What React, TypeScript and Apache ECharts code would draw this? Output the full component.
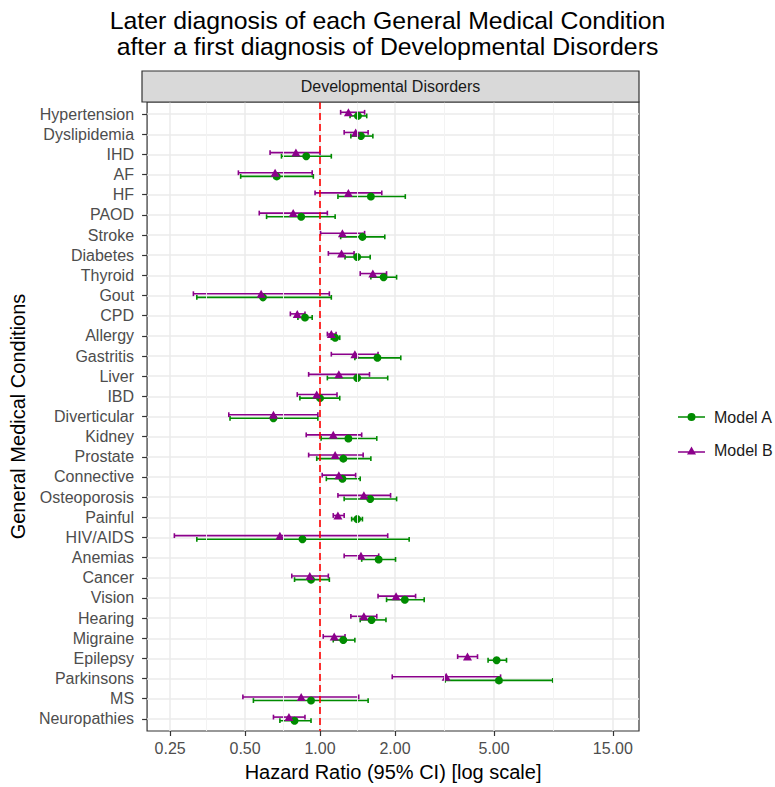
import React, { useEffect, useRef } from 'react';
import * as echarts from 'echarts';

const conditions = [
  'Hypertension', 'Dyslipidemia', 'IHD', 'AF', 'HF', 'PAOD', 'Stroke', 'Diabetes', 'Thyroid', 'Gout',
  'CPD', 'Allergy', 'Gastritis', 'Liver', 'IBD', 'Diverticular', 'Kidney', 'Prostate', 'Connective',
  'Osteoporosis', 'Painful', 'HIV/AIDS', 'Anemias', 'Cancer', 'Vision', 'Hearing', 'Migraine',
  'Epilepsy', 'Parkinsons', 'MS', 'Neuropathies',
];

// Model A (green, circle)
const hrA = [1.42, 1.46, 0.88, 0.67, 1.6, 0.84, 1.48, 1.41, 1.8, 0.59, 0.87, 1.15, 1.7, 1.41, 1.0, 0.65, 1.3, 1.24, 1.23, 1.59, 1.41, 0.85, 1.72, 0.92, 2.19, 1.61, 1.24, 5.12, 5.23, 0.92, 0.79];
const loA = [1.32, 1.33, 0.7, 0.48, 1.18, 0.61, 1.21, 1.26, 1.6, 0.32, 0.815, 1.11, 1.38, 1.07, 0.83, 0.435, 1.01, 0.97, 1.06, 1.25, 1.34, 0.32, 1.47, 0.79, 1.85, 1.45, 1.13, 4.73, 3.18, 0.54, 0.69];
const hiA = [1.54, 1.63, 1.11, 0.94, 2.2, 1.15, 1.82, 1.59, 2.03, 1.11, 0.93, 1.2, 2.11, 1.87, 1.2, 0.98, 1.69, 1.6, 1.45, 2.03, 1.48, 2.28, 2.01, 1.09, 2.62, 1.84, 1.38, 5.61, 8.6, 1.56, 0.92];

// Model B (purple, triangle)
const hrB = [1.3, 1.39, 0.8, 0.66, 1.3, 0.78, 1.23, 1.22, 1.63, 0.58, 0.81, 1.11, 1.38, 1.19, 0.97, 0.65, 1.13, 1.15, 1.19, 1.5, 1.18, 0.69, 1.46, 0.91, 2.02, 1.5, 1.14, 3.91, 3.21, 0.84, 0.75];
const loB = [1.21, 1.25, 0.63, 0.47, 0.955, 0.57, 1.005, 1.08, 1.45, 0.31, 0.76, 1.07, 1.11, 0.9, 0.81, 0.43, 0.88, 0.9, 1.02, 1.18, 1.13, 0.26, 1.25, 0.77, 1.71, 1.33, 1.03, 3.57, 1.95, 0.49, 0.65];
const hiB = [1.51, 1.56, 1.0, 0.93, 1.77, 1.07, 1.51, 1.37, 1.85, 1.09, 0.87, 1.16, 1.71, 1.58, 1.17, 0.98, 1.47, 1.49, 1.39, 1.92, 1.25, 1.87, 1.72, 1.08, 2.42, 1.69, 1.26, 4.29, 5.31, 1.43, 0.87];

const xTicks = [0.25, 0.5, 1, 2, 5, 15];
const xMinor = [0.354, 0.707, 1.414, 3.162, 8.66];
const refLine = [1];

const FONT = '"Liberation Sans", Arial, Helvetica, sans-serif';
const GREEN = '#008B00';
const PURPLE = '#8B008B';
const DODGE = 0.09;

function errorBars(name: string, lo: number[], hi: number[], off: number, color: string) {
  return {
    type: 'custom',
    name,
    z: 3,
    silent: true,
    itemStyle: { color },
    data: conditions.map((_, i) => [lo[i], i + off, hi[i]]),
    encode: { x: [0, 2], y: 1 },
    renderItem: (_params: any, api: any) => {
      const a = api.coord([api.value(0), api.value(1)]);
      const b = api.coord([api.value(2), api.value(1)]);
      const c = 2.4;
      const st = { stroke: color, lineWidth: 1.6, fill: 'none' };
      return {
        type: 'group',
        children: [
          { type: 'line', shape: { x1: a[0], y1: a[1], x2: b[0], y2: b[1] }, style: st },
          { type: 'line', shape: { x1: a[0], y1: a[1] - c, x2: a[0], y2: a[1] + c }, style: st },
          { type: 'line', shape: { x1: b[0], y1: b[1] - c, x2: b[0], y2: b[1] + c }, style: st },
        ],
      };
    },
  };
}

export default function App() {
  const ref = useRef<HTMLDivElement>(null);
  useEffect(() => {
    const chart = echarts.init(ref.current!, null, { renderer: 'svg' });
    const idx = conditions.map((_, i) => i);
    const option: any = {
      animation: false,
      backgroundColor: '#FFFFFF',
      textStyle: { fontFamily: FONT },
      title: {
        text: 'Later diagnosis of each General Medical Condition\nafter a first diagnosis of Developmental Disorders',
        left: 'center',
        top: 7,
        padding: [0, 0, 0, 7],
        textStyle: { fontSize: 24.8, fontWeight: 'normal', color: '#000000', lineHeight: 26, fontFamily: FONT },
      },
      grid: {
        left: 142, right: 136, top: 102, bottom: 55,
        show: true, borderColor: '#333333', borderWidth: 1.2, backgroundColor: 'transparent',
      },
      legend: [
        {
          data: [{ name: 'Model A', icon: 'path://M0,3.2L27,3.2L27,4.8L0,4.8Z M9.5,4A4,4 0 1 1 17.5,4A4,4 0 1 1 9.5,4Z' }],
          left: 673, top: 404, itemWidth: 27, itemHeight: 8, orient: 'vertical',
          textStyle: { fontSize: 16, color: '#1A1A1A', fontFamily: FONT, padding: [0, 0, 0, 4] },
          selectedMode: false,
        },
        {
          data: [{ name: 'Model B', icon: 'path://M0,4.7L27,4.7L27,6.3L0,6.3Z M9,8L13.5,0L18,8Z' }],
          left: 673, top: 437.5, itemWidth: 27, itemHeight: 8, orient: 'vertical',
          textStyle: { fontSize: 16, color: '#1A1A1A', fontFamily: FONT, padding: [0, 0, 0, 4] },
          selectedMode: false,
        },
      ],
      xAxis: {
        type: 'log',
        logBase: 10,
        min: 0.202,
        max: 19.1,
        name: 'Hazard Ratio (95% CI) [log scale]',
        nameLocation: 'middle',
        nameGap: 31,
        nameTextStyle: { fontSize: 20, color: '#000000', fontFamily: FONT },
        axisLine: { show: false, onZero: false },
        axisTick: { show: true, customValues: xTicks, length: 5, lineStyle: { color: '#333333', width: 1.2 } },
        axisLabel: {
          customValues: xTicks, fontSize: 16, color: '#4D4D4D', margin: 9, fontFamily: FONT,
          formatter: (v: number) => Number(v).toFixed(2),
        },
        splitLine: { show: true, lineStyle: { color: '#EBEBEB', width: 1.5 } },
        minorSplitLine: { show: false },
      },
      yAxis: {
        type: 'value',
        inverse: true,
        min: -0.6,
        max: 30.6,
        name: 'General Medical Conditions',
        nameLocation: 'middle',
        nameGap: 110,
        nameTextStyle: { fontSize: 20, color: '#000000', fontFamily: FONT },
        axisLine: { show: false, onZero: false },
        axisTick: { show: true, customValues: idx, length: 5, lineStyle: { color: '#333333', width: 1.2 } },
        axisLabel: {
          customValues: idx, fontSize: 16, color: '#4D4D4D', margin: 13, fontFamily: FONT,
          formatter: (v: number) => conditions[Math.round(v)] ?? '',
        },
        splitLine: { show: true, lineStyle: { color: '#EBEBEB', width: 1.5 } },
      },
      graphic: [
        {
          type: 'rect',
          shape: { x: 142, y: 71, width: 497, height: 31 },
          style: { fill: '#D9D9D9', stroke: '#333333', lineWidth: 1.2 },
          z: 10,
        },
        {
          type: 'text',
          x: 390.5, y: 86.5,
          style: {
            text: 'Developmental Disorders', fontSize: 16, fill: '#1A1A1A', fontFamily: FONT,
            align: 'center', verticalAlign: 'middle',
          },
          z: 11,
        },
      ],
      series: [
        {
          type: 'line',
          name: 'minor-grid',
          data: [],
          z: 1,
          silent: true,
          markLine: {
            silent: true,
            symbol: 'none',
            label: { show: false },
            lineStyle: { color: '#F2F2F2', width: 0.9, type: 'solid' },
            data: xMinor.map((v) => ({ xAxis: v })),
          },
        },
        {
          type: 'line',
          name: 'ref-line',
          data: [],
          z: 2,
          silent: true,
          markLine: {
            silent: true,
            symbol: 'none',
            label: { show: false },
            lineStyle: { color: '#FF0000', width: 1.6, type: [7, 4] },
            data: refLine.map((v) => ({ xAxis: v })),
          },
        },
        errorBars('Model A', loA, hiA, DODGE, GREEN),
        errorBars('Model B', loB, hiB, -DODGE, PURPLE),
        {
          type: 'scatter',
          name: 'Model A',
          z: 4,
          symbol: 'circle',
          symbolSize: 8,
          itemStyle: { color: GREEN, opacity: 1 },
          data: conditions.map((_, i) => [hrA[i], i + DODGE]),
        },
        {
          type: 'scatter',
          name: 'Model B',
          z: 4,
          symbol: 'triangle',
          symbolSize: [9, 8],
          itemStyle: { color: PURPLE, opacity: 1 },
          data: conditions.map((_, i) => [hrB[i], i - DODGE]),
        },
      ],
    };
    chart.setOption(option);
    return () => chart.dispose();
  }, []);
  return <div ref={ref} style={{ position: 'fixed', left: 0, top: 0, width: 775, height: 787 }} />;
}
